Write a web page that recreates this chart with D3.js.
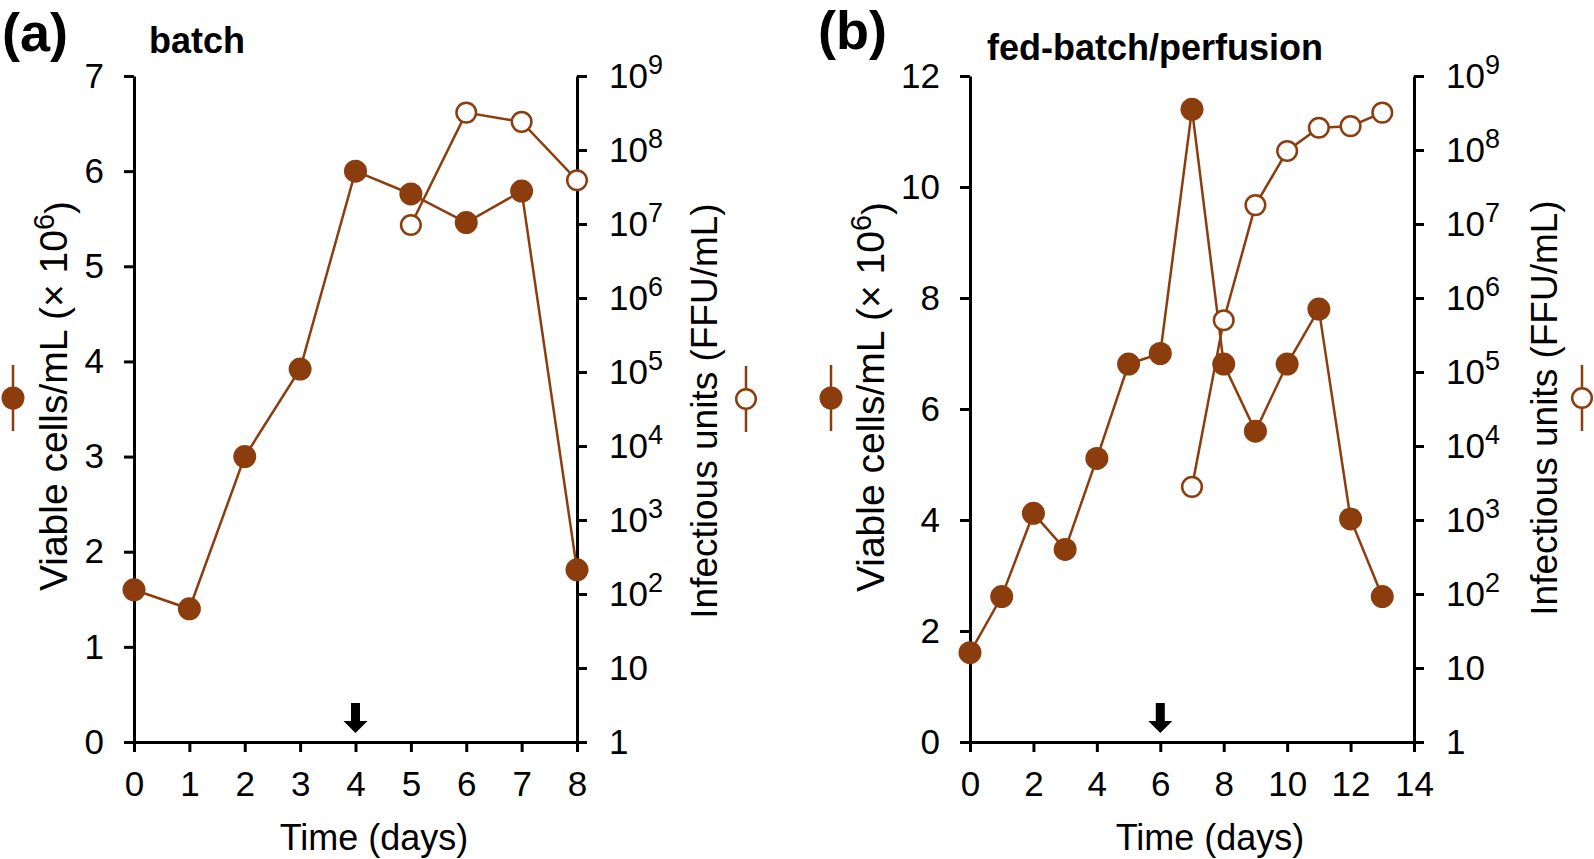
<!DOCTYPE html>
<html>
<head>
<meta charset="utf-8">
<script src="https://cdn.jsdelivr.net/npm/d3@7"></script>
<style>
  body { margin: 0; background: #fff; }
  text { font-family: "Liberation Sans", Arial, sans-serif; fill: #000; }
</style>
</head>
<body>
<script>
// panel (a) batch
var daysA = [0, 1, 2, 3, 4, 5, 6, 7, 8];
var cellsA = [1.6, 1.4, 3.0, 3.92, 6.0, 5.76, 5.46, 5.79, 1.81];
var titerDaysA = [5, 6, 7, 8];
var titerA = [9.7e6, 3.2e8, 2.4e8, 3.9e7];
var xTicksA = [0, 1, 2, 3, 4, 5, 6, 7, 8];
var yTicksA = [0, 1, 2, 3, 4, 5, 6, 7];

// panel (b) fed-batch/perfusion
var daysB = [0, 1, 2, 3, 4, 5, 6, 7, 8, 9, 10, 11, 12, 13];
var cellsB = [1.61, 2.62, 4.12, 3.47, 5.11, 6.81, 7.0, 11.4, 6.81, 5.6, 6.81, 7.8, 4.02, 2.62];
var titerDaysB = [7, 8, 9, 10, 11, 12, 13];
var titerB = [2.8e3, 5e5, 1.8e7, 9.7e7, 2e8, 2.1e8, 3.2e8];
var xTicksB = [0, 2, 4, 6, 8, 10, 12, 14];
var yTicksB = [0, 2, 4, 6, 8, 10, 12];

var logExps = [0, 1, 2, 3, 4, 5, 6, 7, 8, 9];

var brown = "#8b3d0e";
var svg = d3.select("body").append("svg")
    .attr("width", 1594)
    .attr("height", 859);

function drawPanel(o) {
    var x = d3.scaleLinear().domain([0, o.xMax]).range([o.left, o.right]);
    var y = d3.scaleLinear().domain([0, o.yMax]).range([742, 76]);
    var yLog = d3.scaleLog().domain([1, 1e9]).range([742, 76]);
    var g = svg.append("g");

    // axes
    var gx = g.append("g").attr("transform", "translate(0,742)")
        .call(d3.axisBottom(x).tickValues(o.xTicks).tickSize(10).tickSizeOuter(0)
            .tickPadding(19).tickFormat(d3.format("d")));
    var gy = g.append("g").attr("transform", "translate(" + o.left + ",0)")
        .call(d3.axisLeft(y).tickValues(o.yTicks).tickSize(10).tickSizeOuter(0)
            .tickPadding(20).tickFormat(d3.format("d")));
    var gr = g.append("g").attr("transform", "translate(" + o.right + ",0)")
        .call(d3.axisRight(yLog).tickValues(logExps.map(function(e) { return Math.pow(10, e); }))
            .tickSize(10).tickSizeOuter(0).tickPadding(22).tickFormat(function() { return ""; }));

    [gx, gy, gr].forEach(function(a) {
        a.selectAll("path, line").attr("stroke", "#000").attr("stroke-width", 3);
        a.selectAll("text").attr("font-size", 35).attr("font-family", null);
    });

    gr.selectAll(".tick text").each(function(d) {
        var e = Math.round(Math.log10(d));
        var t = d3.select(this);
        if (e === 0) { t.text("1"); return; }
        t.append("tspan").text("10");
        if (e > 1) {
            t.append("tspan").attr("font-size", 27).attr("dy", "-0.5em").text(e);
        }
    });

    // arrow marking infection day
    var ax = x(o.arrowDay);
    g.append("path")
        .attr("d", "M" + (ax - 4.5) + ",703 L" + (ax + 4.5) + ",703 L" + (ax + 4.5) + ",721 L" + (ax + 12) + ",721 L" + ax + ",733 L" + (ax - 12) + ",721 L" + (ax - 4.5) + ",721 Z")
        .attr("fill", "#000");

    // viable cells
    var cells = o.days.map(function(d, i) { return [d, o.cells[i]]; });
    g.append("path").datum(cells)
        .attr("fill", "none").attr("stroke", brown).attr("stroke-width", 2.5)
        .attr("d", d3.line().x(function(d) { return x(d[0]); }).y(function(d) { return y(d[1]); }));
    g.selectAll(".cell").data(cells).enter().append("circle")
        .attr("cx", function(d) { return x(d[0]); })
        .attr("cy", function(d) { return y(d[1]); })
        .attr("r", 11.5)
        .attr("fill", brown);

    // infectious units
    var titer = o.titerDays.map(function(d, i) { return [d, o.titer[i]]; });
    g.append("path").datum(titer)
        .attr("fill", "none").attr("stroke", brown).attr("stroke-width", 2.5)
        .attr("d", d3.line().x(function(d) { return x(d[0]); }).y(function(d) { return yLog(d[1]); }));
    g.selectAll(".titer").data(titer).enter().append("circle")
        .attr("cx", function(d) { return x(d[0]); })
        .attr("cy", function(d) { return yLog(d[1]); })
        .attr("r", 9.8)
        .attr("fill", "#fff")
        .attr("stroke", brown)
        .attr("stroke-width", 2.5);

    // panel letter + title
    g.append("text").attr("x", o.letterX).attr("y", o.letterY)
        .attr("font-size", 54).attr("font-weight", "bold").text(o.letter);
    g.append("text").attr("x", o.titleX).attr("y", o.titleY)
        .attr("font-size", 36).attr("font-weight", "bold").text(o.title);

    // x title
    g.append("text").attr("x", o.xTitleX).attr("y", 850)
        .attr("text-anchor", "middle").attr("font-size", 36).text("Time (days)");

    // left y title with legend marker
    var lt = g.append("text")
        .attr("transform", "translate(" + o.yl[0] + "," + o.yl[1] + ") rotate(-90)")
        .attr("text-anchor", "middle").attr("font-size", 39);
    lt.append("tspan").text("Viable cells/mL (\u00d7 10");
    lt.append("tspan").attr("font-size", 29).attr("dy", "-0.45em").text("6");
    lt.append("tspan").attr("dy", "0.45em").text(")");
    g.append("line").attr("x1", o.ml[0]).attr("x2", o.ml[0])
        .attr("y1", o.ml[1] - 33).attr("y2", o.ml[1] + 33)
        .attr("stroke", brown).attr("stroke-width", 2.5);
    g.append("circle").attr("cx", o.ml[0]).attr("cy", o.ml[1]).attr("r", 11.5).attr("fill", brown);

    // right y title with legend marker
    g.append("text")
        .attr("transform", "translate(" + o.yr[0] + "," + o.yr[1] + ") rotate(-90)")
        .attr("text-anchor", "middle").attr("font-size", 37)
        .text("Infectious units (FFU/mL)");
    g.append("line").attr("x1", o.mr[0]).attr("x2", o.mr[0])
        .attr("y1", o.mr[1] - 33).attr("y2", o.mr[1] + 33)
        .attr("stroke", brown).attr("stroke-width", 2.5);
    g.append("circle").attr("cx", o.mr[0]).attr("cy", o.mr[1]).attr("r", 9.8)
        .attr("fill", "#fff").attr("stroke", brown).attr("stroke-width", 2.5);
}

drawPanel({
    left: 134, right: 577, xMax: 8, yMax: 7,
    xTicks: xTicksA, yTicks: yTicksA,
    days: daysA, cells: cellsA, titerDays: titerDaysA, titer: titerA,
    arrowDay: 4,
    letter: "(a)", letterX: 2, letterY: 51,
    title: "batch", titleX: 149, titleY: 53,
    xTitleX: 374,
    yl: [67, 396], ml: [13, 398],
    yr: [717, 411], mr: [746, 399]
});

drawPanel({
    left: 970, right: 1414, xMax: 14, yMax: 12,
    xTicks: xTicksB, yTicks: yTicksB,
    days: daysB, cells: cellsB, titerDays: titerDaysB, titer: titerB,
    arrowDay: 6,
    letter: "(b)", letterX: 818, letterY: 49,
    title: "fed-batch/perfusion", titleX: 987, titleY: 60,
    xTitleX: 1210,
    yl: [884, 397], ml: [831, 398],
    yr: [1557, 408], mr: [1582, 398]
});
</script>
</body>
</html>
